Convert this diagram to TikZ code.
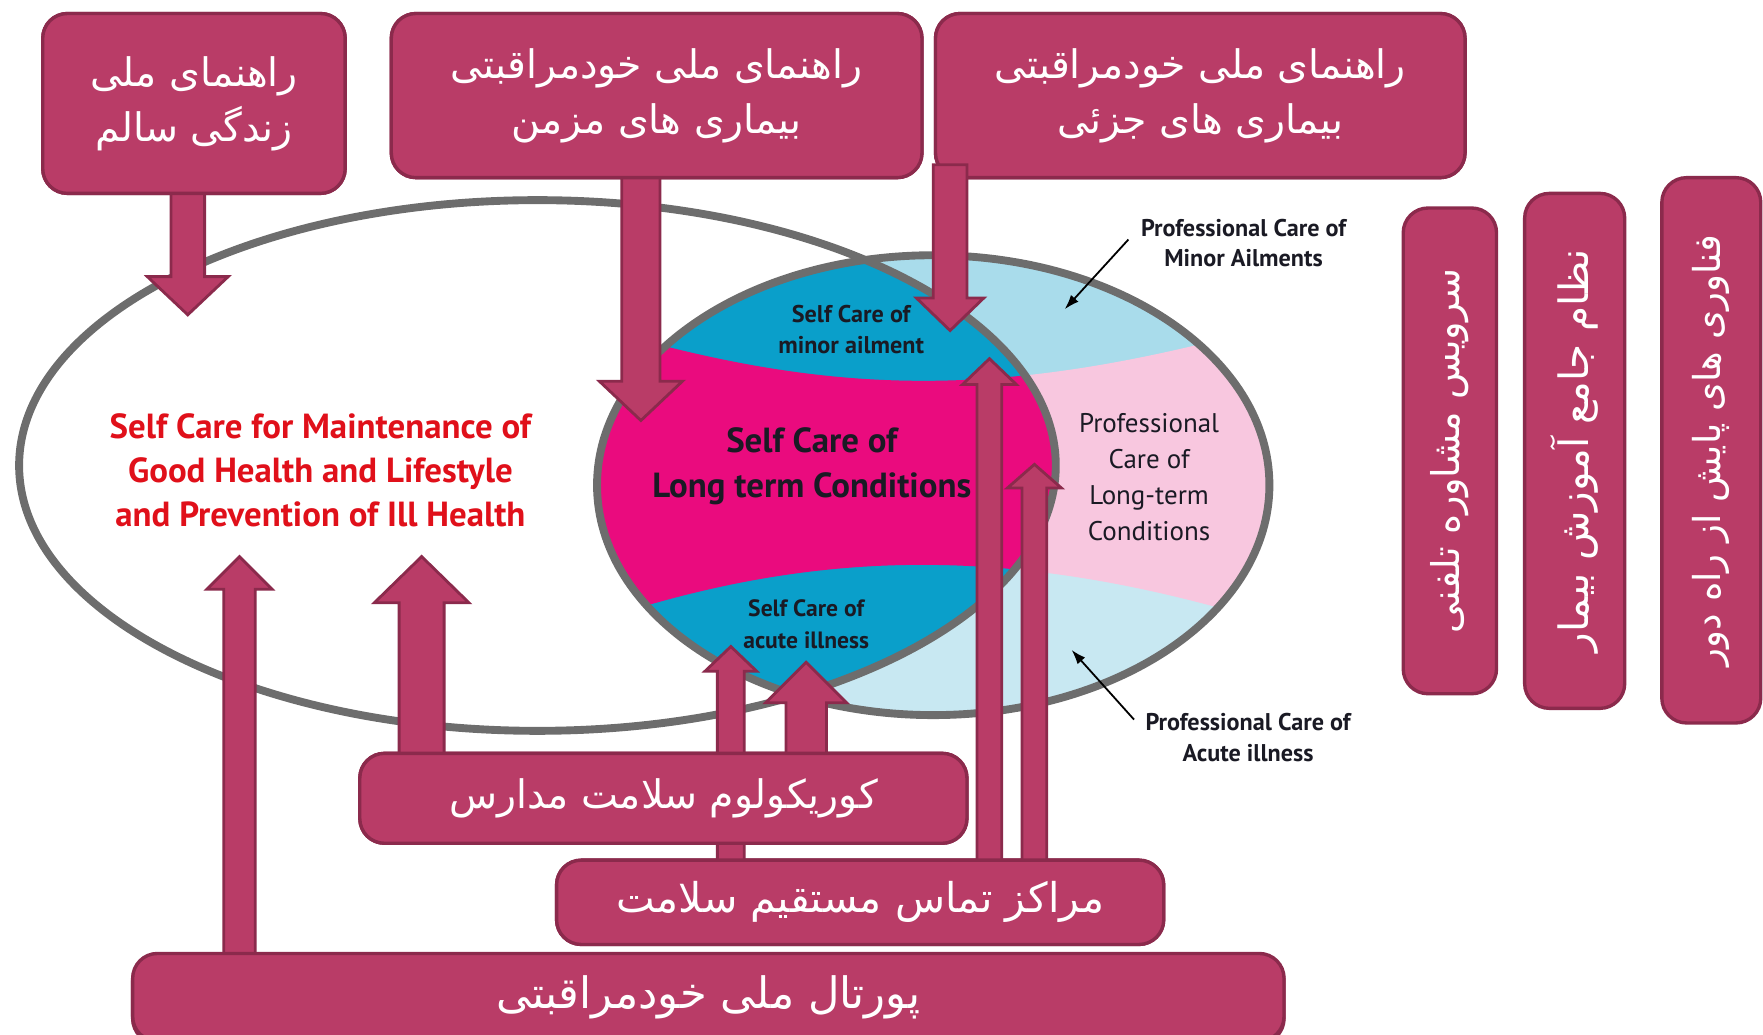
\documentclass[tikz,border=0pt]{standalone}
\usepackage{fontspec}
\setmainfont{PT Sans}
\newfontfamily\farsi[Script=Arabic]{DejaVu Sans}
\TeXXeTstate=1
\usetikzlibrary{calc,arrows.meta}
\definecolor{boxfill}{HTML}{B93C67}
\definecolor{boxline}{HTML}{8B2A4C}
\definecolor{ringgray}{HTML}{6D6D6D}
\definecolor{deepblue}{HTML}{0A9FCA}
\definecolor{skyblue}{HTML}{A9DCEB}
\definecolor{mistblue}{HTML}{C8E8F2}
\definecolor{blush}{HTML}{F8C7DF}
\definecolor{hotpink}{HTML}{EA0B7E}
\definecolor{carered}{HTML}{E0101A}
\definecolor{inkdark}{HTML}{1A1A24}
\newcommand\fa[1]{{\farsi\beginR #1\endR}}
\tikzset{blockarrow/.style={draw=boxline,fill=boxfill,line width=2.5pt,line join=miter}}
% start, tip, shaft half width, head half width, head length
\newcommand\blockarrow[5]{%
  \draw[blockarrow] let \p1=(#1), \p2=(#2), \n1={ifthenelse(\y1>\y2,1,-1)} in
    (\x1-#3,\y1) -- (\x1-#3,{\y2+(\n1)*#5}) -- (\x1-#4,{\y2+(\n1)*#5}) -- (\x2,\y2)
    -- (\x1+#4,{\y2+(\n1)*#5}) -- (\x1+#3,{\y2+(\n1)*#5}) -- (\x1+#3,\y1) -- cycle;}
\begin{document}
\begin{tikzpicture}[x=1pt,y=-1pt,
  fabox/.style={draw=boxline,fill=boxfill,line width=3pt,rounded corners=22pt,text=white,align=center,inner sep=0pt},
  ringline/.style={draw=ringgray,line width=7pt},
  pointer/.style={-{Latex[length=13pt,width=9pt]},line width=1.6pt,draw=black}]
\useasboundingbox (0,0) rectangle (1568,920.5);
\begin{scope}
  \clip (830,431.5) ellipse [x radius=299, y radius=204.5];
  \fill[skyblue] (520,220) rectangle (1140,431);
  \fill[mistblue] (520,431) rectangle (1140,645);
  \fill[blush] (520,290) -- (580,305) .. controls (760,352) and (900,350) .. (1100,298) -- (1140,290)
    -- (1140,560) -- (1100,545) .. controls (900,488) and (740,490) .. (570,540) -- (520,560) -- cycle;
  \clip (478,414) ellipse [x radius=461, y radius=236];
  \fill[deepblue] (520,220) rectangle (1140,645);
  \fill[hotpink] (520,290) -- (580,305) .. controls (760,352) and (900,350) .. (1100,298) -- (1140,290)
    -- (1140,560) -- (1100,545) .. controls (900,488) and (740,490) .. (570,540) -- (520,560) -- cycle;
\end{scope}
\draw[ringline] (478,414) ellipse [x radius=461, y radius=236];
\draw[ringline] (830,431.5) ellipse [x radius=299, y radius=204.5];

\begin{scope}[every node/.style={align=center,inner sep=1pt}]
\node [text=carered,font=\bfseries\fontsize{31}{39}\selectfont](maint) at (285,418) {Self Care for Maintenance of\\Good Health and Lifestyle\\and Prevention of Ill Health};
\node [text=inkdark,font=\bfseries\fontsize{21.5}{28}\selectfont](scminor) at (757,293) {Self Care of\\minor ailment};
\node [text=inkdark,font=\bfseries\fontsize{31}{40}\selectfont](sclong) at (722,415) {Self Care of\\Long term Conditions};
\node [text=inkdark,font=\bfseries\fontsize{21}{28}\selectfont](scacute) at (717,555) {Self Care of\\acute illness};
\node [text=inkdark,font=\fontsize{24}{32}\selectfont](pclong) at (1022,424) {Professional\\Care of\\Long-term\\Conditions};
\node [text=inkdark,font=\bfseries\fontsize{21.5}{27}\selectfont](pcminor) at (1106,216) {Professional Care of\\Minor Ailments};
\node [text=inkdark,font=\bfseries\fontsize{21.5}{27}\selectfont](pcacute) at (1110,656) {Professional Care of\\Acute illness};
\end{scope}
\coordinate (minorpt) at (947,275);
\coordinate (acutept) at (953,578);
\draw[pointer] ([xshift=-10pt,yshift=3pt]pcminor.west) -- (minorpt);
\draw[pointer] ([xshift=-9pt,yshift=16pt]pcacute.west) -- (acutept);

\coordinate (tLive) at (167,280);
\coordinate (tChronic) at (570,374);
\coordinate (tMinor) at (845,294);
\coordinate (tPortal) at (213,495);
\coordinate (tSchoolA) at (375,495);
\coordinate (tContactA) at (650,575);
\coordinate (tSchoolB) at (717,589);
\coordinate (tContactB) at (880,319);
\coordinate (tContactC) at (920,413);

\node [fabox,minimum width=269pt,minimum height=160pt](live) at (172.5,92) {};
\node [fabox,minimum width=472pt,minimum height=146pt](chronic) at (584,85) {};
\node [fabox,minimum width=471pt,minimum height=146pt](minor) at (1067.5,85) {};
\node [fabox,minimum width=540pt,minimum height=80pt](school) at (590,710) {};
\node [fabox,minimum width=540pt,minimum height=75pt](contact) at (765,802.5) {};
\node [fabox,minimum width=1024pt,minimum height=78pt](portal) at (630,889) {};

\blockarrow{tLive |- live.center}{tLive}{15pt}{36pt}{34pt}
\blockarrow{tChronic |- chronic.center}{tChronic}{17pt}{37pt}{35pt}
\blockarrow{tPortal |- portal.center}{tPortal}{14pt}{29pt}{29pt}
\blockarrow{tSchoolA |- school.center}{tSchoolA}{20pt}{42pt}{41pt}
\blockarrow{tContactA |- contact.center}{tContactA}{12pt}{23pt}{22pt}
\blockarrow{tSchoolB |- school.center}{tSchoolB}{18pt}{36pt}{36pt}
\blockarrow{tContactB |- contact.center}{tContactB}{11pt}{24pt}{23pt}
\blockarrow{tContactC |- contact.center}{tContactC}{11pt}{24pt}{21pt}

\begin{scope}[every node/.style={fabox,font=\fontsize{35}{49}\selectfont}]
\node [minimum width=269pt,minimum height=160pt](live) at (172.5,92) {\fa{راهنمای ملی}\\\fa{زندگی سالم}};
\node [minimum width=472pt,minimum height=146pt](chronic) at (584,85) {\fa{راهنمای ملی خودمراقبتی}\\\fa{بیماری های مزمن}};
\node [minimum width=471pt,minimum height=146pt](minor) at (1067.5,85) {\fa{راهنمای ملی خودمراقبتی}\\\fa{بیماری های جزئی}};
\node [minimum width=540pt,minimum height=80pt](school) at (590,710) {\fa{کوریکولوم سلامت مدارس}};
\node [minimum width=540pt,minimum height=75pt,font=\fontsize{36.5}{40}\selectfont](contact) at (765,802.5) {\fa{مراکز تماس مستقیم سلامت}};
\node [minimum width=1024pt,minimum height=78pt,font=\fontsize{38.5}{40}\selectfont](portal) at (630,887) {\fa{پورتال ملی خودمراقبتی}};
\node [rotate=90,minimum width=432pt,minimum height=83pt,font=\fontsize{34}{36}\selectfont](phone) at (1289.5,401) {\fa{سرویس مشاوره تلفنی}};
\node [rotate=90,minimum width=458pt,minimum height=89pt,font=\fontsize{36}{38}\selectfont](edu) at (1400.5,401) {\fa{نظام جامع آموزش بیمار}};
\node [rotate=90,minimum width=485pt,minimum height=88pt,font=\fontsize{33}{36}\selectfont](remote) at (1522,400.5) {\fa{فناوری های پایش از راه دور}};
\end{scope}
\coordinate (sMinor) at ($(tMinor |- minor.south)+(0,-13)$);
\blockarrow{sMinor}{tMinor}{15pt}{30pt}{29pt}
\end{tikzpicture}
\end{document}
